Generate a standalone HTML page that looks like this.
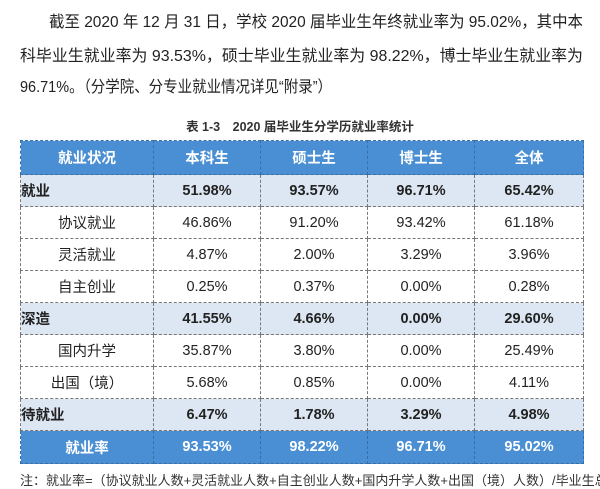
<!DOCTYPE html>
<html><head><meta charset="utf-8"><style>
body{margin:0;width:600px;height:481px;overflow:hidden;background:#fff;font-family:"Liberation Sans","Noto Sans CJK SC",sans-serif;color:#222;position:relative}
.p{position:absolute;left:20px;top:0;font-size:16px;white-space:nowrap;transform-origin:0 0}
.cap{position:absolute;top:116px;left:0;width:600px;text-align:center;font-size:12.5px;font-weight:bold;color:#333}
table{position:absolute;left:20px;top:140px;border-collapse:collapse;font-size:14.5px}
td{border:1px dashed #777;text-align:center;padding:0;height:31px}
tr.h td{background:#4a8fd3;color:#fff;font-weight:bold;height:33px;border-color:#3a6fa3}
tr.b td{background:#dde7f3;font-weight:bold}
tr.b td:first-child{text-align:left;padding-left:0}
tr.f td{background:#4a8fd3;color:#fff;font-weight:bold;height:32px;border-color:#3a6fa3}
.note{position:absolute;left:20px;top:470px;font-size:13px;white-space:nowrap;color:#333}
</style></head><body>
<div class="p" id="l1" data-w="534" style="top:8px;left:49px">截至 2020 年 12 月 31 日，学校 2020 届毕业生年终就业率为 95.02%，其中本</div>
<div class="p" id="l2" data-w="563" style="top:42px">科毕业生就业率为 93.53%，硕士毕业生就业率为 98.22%，博士毕业生就业率为</div>
<div class="p" id="l3" data-w="312" style="top:73px">96.71%。（分学院、分专业就业情况详见“附录”）</div>
<div class="cap">表 1-3　2020 届毕业生分学历就业率统计</div>
<table>
<colgroup><col style="width:133px"><col style="width:107px"><col style="width:107px"><col style="width:107px"><col style="width:109px"></colgroup>
<tr class="h"><td>就业状况</td><td>本科生</td><td>硕士生</td><td>博士生</td><td>全体</td></tr>
<tr class="b"><td>就业</td><td>51.98%</td><td>93.57%</td><td>96.71%</td><td>65.42%</td></tr>
<tr><td>协议就业</td><td>46.86%</td><td>91.20%</td><td>93.42%</td><td>61.18%</td></tr>
<tr><td>灵活就业</td><td>4.87%</td><td>2.00%</td><td>3.29%</td><td>3.96%</td></tr>
<tr><td>自主创业</td><td>0.25%</td><td>0.37%</td><td>0.00%</td><td>0.28%</td></tr>
<tr class="b"><td>深造</td><td>41.55%</td><td>4.66%</td><td>0.00%</td><td>29.60%</td></tr>
<tr><td>国内升学</td><td>35.87%</td><td>3.80%</td><td>0.00%</td><td>25.49%</td></tr>
<tr><td>出国（境）</td><td>5.68%</td><td>0.85%</td><td>0.00%</td><td>4.11%</td></tr>
<tr class="b"><td>待就业</td><td>6.47%</td><td>1.78%</td><td>3.29%</td><td>4.98%</td></tr>
<tr class="f"><td>就业率</td><td>93.53%</td><td>98.22%</td><td>96.71%</td><td>95.02%</td></tr>
</table>
<div class="note">注：就业率=（协议就业人数+灵活就业人数+自主创业人数+国内升学人数+出国（境）人数）/毕业生总人</div>
<script>
['l1','l2','l3'].forEach(function(id){var e=document.getElementById(id);var w=+e.getAttribute('data-w');var a=e.getBoundingClientRect().width;if(a>0)e.style.transform='scaleX('+(w/a)+')';});
</script>
</body></html>
